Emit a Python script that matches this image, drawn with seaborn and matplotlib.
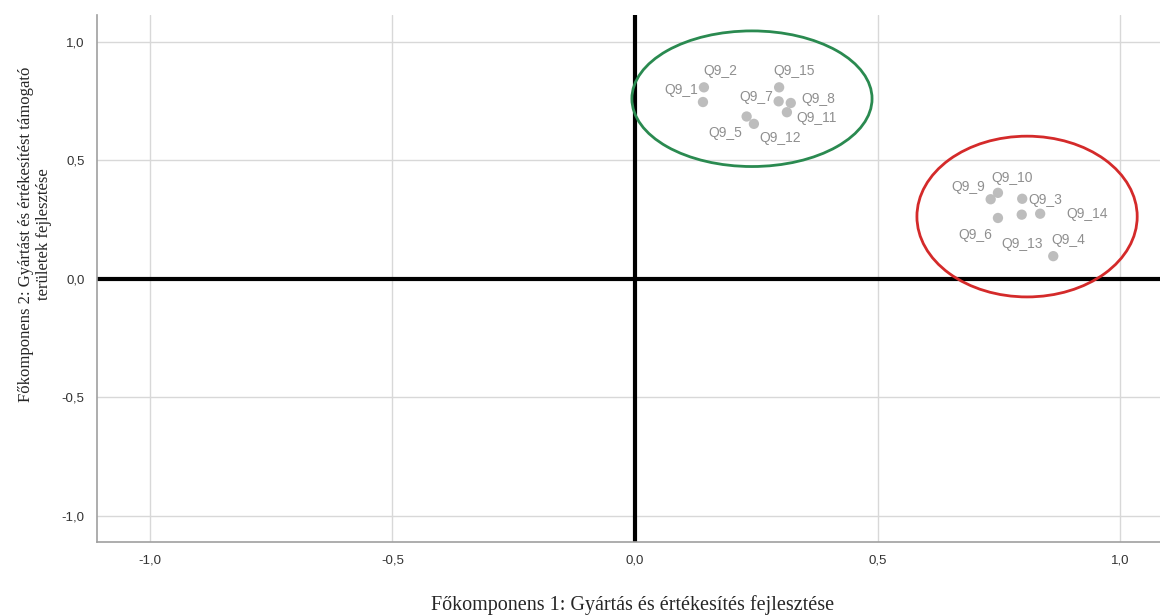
import numpy as np
import pandas as pd
import matplotlib
matplotlib.use("Agg")
import matplotlib.pyplot as plt
from matplotlib.patches import Ellipse
from matplotlib.ticker import FuncFormatter
import seaborn as sns

# component loadings
items = ["Q9_1", "Q9_2", "Q9_5", "Q9_7", "Q9_8", "Q9_11", "Q9_12", "Q9_15",
         "Q9_3", "Q9_4", "Q9_6", "Q9_9", "Q9_10", "Q9_13", "Q9_14"]
comp1 = [0.140, 0.142, 0.230, 0.296, 0.321, 0.313, 0.245, 0.297,
         0.798, 0.862, 0.748, 0.733, 0.748, 0.797, 0.835]
comp2 = [0.746, 0.808, 0.685, 0.749, 0.742, 0.703, 0.654, 0.808,
         0.338, 0.096, 0.257, 0.336, 0.363, 0.271, 0.275]

x_label = "Főkomponens 1: Gyártás és értékesítés fejlesztése"
y_label = "Főkomponens 2: Gyártást és értékesítést támogató\nterületek fejlesztése"
ticks = [-1.0, -0.5, 0.0, 0.5, 1.0]

# label placement (offset in pixels, horizontal alignment)
label_pos = {
    "Q9_1": (-5, 12, "right"), "Q9_2": (-1, 16, "left"),
    "Q9_5": (-4, -17, "right"), "Q9_7": (-5, 4, "right"),
    "Q9_8": (11, 4, "left"), "Q9_11": (9, -6, "left"),
    "Q9_12": (5, -14, "left"), "Q9_15": (-6, 16, "left"),
    "Q9_3": (6, -1, "left"), "Q9_4": (-2, 16, "left"),
    "Q9_6": (-6, -17, "right"), "Q9_9": (-6, 12, "right"),
    "Q9_10": (-7, 15, "left"), "Q9_13": (0, -29, "center"),
    "Q9_14": (26, 0, "left"),
}

df = pd.DataFrame({"item": items, "c1": comp1, "c2": comp2})

sns.set_theme(style="white")
plt.rcParams["font.family"] = ["Liberation Sans", "DejaVu Sans"]

fig = plt.figure(figsize=(11.6, 6.16), dpi=100)
ax = fig.add_axes([0.0836, 0.120, 0.9164, 0.856])

ax.set_xlim(-1.109, 1.082)
ax.set_ylim(-1.11, 1.114)
ax.set_xticks(ticks)
ax.set_yticks(ticks)
fmt = FuncFormatter(lambda v, p: f"{v:.1f}".replace(".", ","))
ax.xaxis.set_major_formatter(fmt)
ax.yaxis.set_major_formatter(fmt)
ax.grid(True, color="#d8d8d8", linewidth=1)
ax.set_axisbelow(True)
ax.tick_params(length=0, labelsize=9.5, colors="#333333", pad=9)
for s in ["top", "right"]:
    ax.spines[s].set_visible(False)
for s in ["left", "bottom"]:
    ax.spines[s].set_color("#a0a0a0")
    ax.spines[s].set_linewidth(1.2)

ax.axhline(0, color="black", linewidth=3, zorder=2)
ax.axvline(0, color="black", linewidth=3, zorder=2)

sns.scatterplot(data=df, x="c1", y="c2", ax=ax, color="#bdbdbd", s=55,
                edgecolor="none", zorder=3, legend=False)

for name, x, y in zip(items, comp1, comp2):
    dx, dy, ha = label_pos[name]
    ax.annotate(name, (x, y), xytext=(dx, dy), textcoords="offset pixels",
                ha=ha, va="center", fontsize=10, color="#8f8f8f", zorder=4)

ax.add_patch(Ellipse((0.241, 0.760), 0.495, 0.572, fill=False,
                     edgecolor="#2a8a50", linewidth=2, zorder=5))
ax.add_patch(Ellipse((0.808, 0.263), 0.454, 0.678, fill=False,
                     edgecolor="#d42a2a", linewidth=2, zorder=5))

ax.set_xlabel(x_label, family=["Liberation Serif", "DejaVu Serif"], fontsize=14.5)
ax.set_ylabel(y_label, family=["Liberation Serif", "DejaVu Serif"], fontsize=12,
              linespacing=1.2)
ax.xaxis.set_label_coords(0.504, -0.100)
ax.yaxis.set_label_coords(-0.042, 0.584)

fig.savefig("out.png", dpi=100)
